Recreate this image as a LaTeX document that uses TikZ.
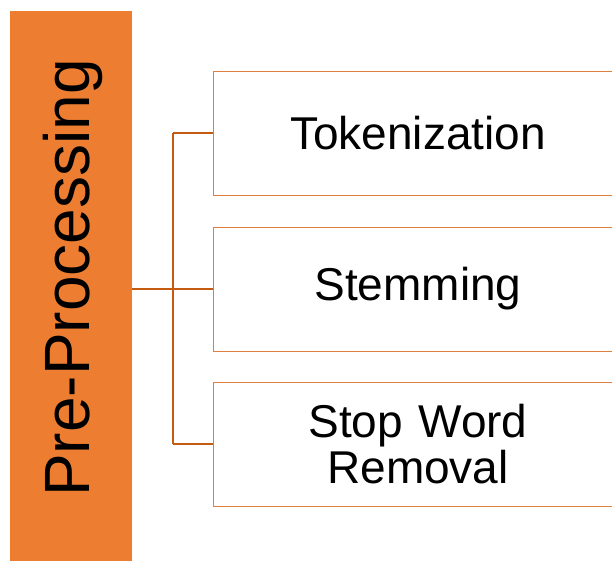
\documentclass[tikz,border=0pt]{standalone}
\usepackage{fontspec}
\setmainfont{Liberation Sans}
\definecolor{orfill}{HTML}{ED7D31}
\definecolor{orline}{HTML}{C55A11}
\definecolor{boxline}{HTML}{E08040}
\begin{document}
\begin{tikzpicture}[x=1pt,y=-1pt,
  itembox/.style={draw=boxline,line width=1.4pt,fill=white,minimum width=420pt,minimum height=124pt,anchor=north west,inner sep=0pt},
  itemtext/.style={font=\fontsize{46}{46}\selectfont,align=center},
  conn/.style={draw=orline,line width=1.5pt}]
\useasboundingbox (0,0) rectangle (612,561);
\fill[orfill] (10,11) rectangle (132,562);
\node[draw=none,fill=none,minimum width=122pt,minimum height=551pt,anchor=north west,inner sep=0pt] (main) at (10,11) {};
\node[rotate=90,font=\fontsize{64}{64}\selectfont] (maintext) at (73,278) {Pre-Processing};
\node[itembox] (b1) at (213,71) {};
\node[itembox] (b2) at (213,227) {};
\node[itembox] (b3) at (213,382) {};
\node[itemtext] (t1) at (418,133) {Tokenization};
\node[itemtext] (t2) at (418,289) {Stemming};
\node[itemtext,text width=300pt] (t3) at (418,444) {\fontsize{46}{45}\selectfont Stop Word\\Removal};
\coordinate (j) at (173,289);
\draw[conn] (main.east |- j) -- (b2.west |- j);
\draw[conn] (173,133) -- (173,444);
\draw[conn] (173,133) -- (b1.west |- 173,133);
\draw[conn] (173,444) -- (b3.west |- 173,444);
\end{tikzpicture}
\end{document}
